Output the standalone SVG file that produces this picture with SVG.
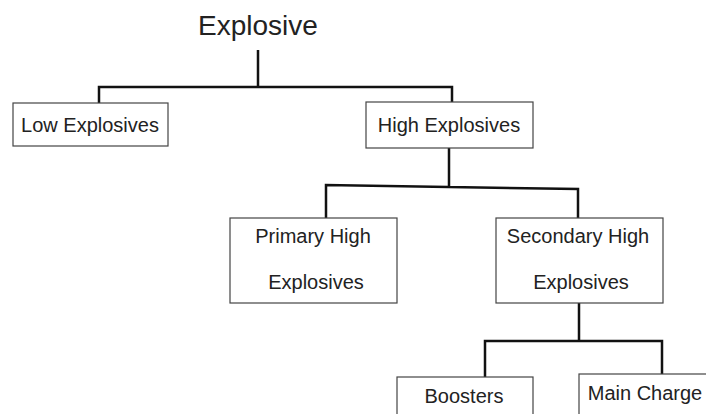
<svg xmlns="http://www.w3.org/2000/svg" width="706" height="414" viewBox="0 0 706 414">
  <style>
    .box { fill: #fff; stroke: #444; stroke-width: 1.2; }
    .lbl { font-family: "Liberation Sans", "Open Sans", sans-serif; font-size: 20px; fill: #222; text-anchor: middle; }
    .title { font-family: "Liberation Sans", "Open Sans", sans-serif; font-size: 28px; fill: #222; text-anchor: middle; }
    .wire { fill: none; stroke: #111; stroke-width: 2.5; }
  </style>
  <rect width="706" height="414" fill="#fff"/>

  <g id="connectors">
    <path class="wire" d="M258 50 V87 M99 103 V87 H452 V102"/>
    <path class="wire" d="M449 148 V186 M326 218 V185 L578 189 V218"/>
    <path class="wire" d="M579 303 V340 M485 377 V341 H662 V374"/>
  </g>

  <g id="explosive">
    <text class="title" x="258" y="35">Explosive</text>
  </g>

  <g id="low-explosives">
    <rect class="box" x="13" y="103" width="155" height="43"/>
    <text class="lbl" x="90" y="132">Low Explosives</text>
  </g>

  <g id="high-explosives">
    <rect class="box" x="366" y="102" width="167" height="46"/>
    <text class="lbl" x="449" y="132">High Explosives</text>
  </g>

  <g id="primary-high-explosives">
    <rect class="box" x="230" y="218" width="167" height="85"/>
    <text class="lbl" x="313" y="243">Primary High</text>
    <text class="lbl" x="316" y="289">Explosives</text>
  </g>

  <g id="secondary-high-explosives">
    <rect class="box" x="496" y="218" width="167" height="85"/>
    <text class="lbl" x="578" y="243">Secondary High</text>
    <text class="lbl" x="581" y="289">Explosives</text>
  </g>

  <g id="boosters">
    <rect class="box" x="397" y="377" width="136" height="45"/>
    <text class="lbl" x="464" y="403">Boosters</text>
  </g>

  <g id="main-charge">
    <rect class="box" x="579" y="374" width="140" height="48"/>
    <text class="lbl" x="645" y="400">Main Charge</text>
  </g>
</svg>
